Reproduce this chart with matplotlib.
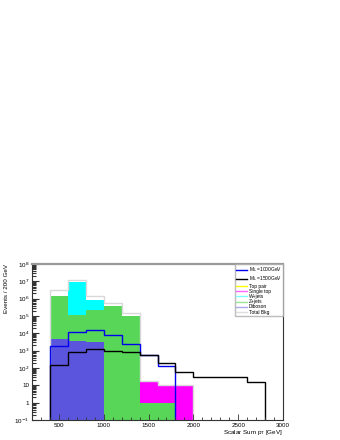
import numpy as np
import matplotlib
matplotlib.use("Agg")
import matplotlib.pyplot as plt
from matplotlib.ticker import FixedLocator, FuncFormatter, LogLocator, MultipleLocator, NullFormatter
from matplotlib.lines import Line2D

plt.rcParams['font.family'] = ['Liberation Sans', 'DejaVu Sans']

# ---- data (bins of 200 GeV) ----
edges = [400, 600, 800, 1000, 1200, 1400, 1600, 1800, 2000, 2200, 2400, 2600, 2800]
diboson   = [4.5e3, 3.8e3, 3.2e3, 0, 0, 0, 0, 0, 0, 0, 0, 0]
zjets     = [1.4e6, 1.1e5, 2.2e5, 3.8e5, 1.05e5, 1.0, 1.0, 0, 0, 0, 0, 0]
wjets     = [0, 9.5e6, 6.1e5, 0, 0, 0, 0, 0, 0, 0, 0, 0]
singletop = [0, 0, 0, 0, 0, 17, 9.5, 10, 0, 0, 0, 0]
toppair   = [0, 0, 0, 0, 0, 0, 0, 0, 0, 0, 0, 0]
totalbkg  = [3.2e6, 1.2e7, 1.4e6, 5.4e5, 1.4e5, 19, 11, 10.5, 0, 0, 0, 0]
sig1000   = [1.9e3, 1.15e4, 1.55e4, 7.6e3, 2.3e3, 560, 130, 0, 0, 0, 0, 0]
sig1500   = [150, 880, 1.2e3, 1.0e3, 800, 540, 200, 61, 30, 30, 30, 15]

xticks = [500, 1000, 1500, 2000, 2500, 3000]
yticks = [1e-1, 1, 10, 1e2, 1e3, 1e4, 1e5, 1e6, 1e7, 1e8]
ylabel = "Events / 200 GeV"
xlabel = r"Scalar Sum p$_{\mathrm{T}}$ [GeV]"

labels = [r"M$_{\mathrm{L}}$ =1000GeV", r"M$_{\mathrm{L}}$ =1500GeV", "Top pair",
          "Single top", "W+jets", "Z+jets", "Diboson", "Total Bkg"]

YMIN, YMAX = 1e-1, 1e8

fig = plt.figure(figsize=(3.4, 4.4), dpi=100)
ax = fig.add_axes([32/340, 20/440, (283-32)/340, (420-264)/440])
ax.set_yscale('log')
ax.set_xlim(200, 3000)
ax.set_ylim(YMIN, YMAX)

e = np.array(edges, float)
floor = 1e-3
stack = [(diboson, '#5b55dd'),
         (zjets, '#57d657'),
         (wjets, '#00ffff'),
         (singletop, '#ff00ff'),
         (toppair, '#ffff00')]
base = np.zeros(len(edges) - 1)
for vals, fc in stack:
    v = np.array(vals, float)
    top = base + v
    mask = v > 0
    lo = np.where(base > 0, base, floor)
    hi = np.where(mask, top, lo)
    ax.stairs(hi, e, baseline=lo, fill=True, color=fc, lw=0)
    base = top

ax.stairs(np.clip(np.array(totalbkg, float), floor, None), e, baseline=floor,
          color='#d8d8d8', lw=1.0)
ax.stairs(np.clip(np.array(sig1000, float), floor, None), e, baseline=floor,
          color='#0000ee', lw=1.0)
ax.stairs(np.clip(np.array(sig1500, float), floor, None), e, baseline=floor,
          color='black', lw=1.0)

# ticks
ax.xaxis.set_major_locator(FixedLocator(xticks))
ax.xaxis.set_minor_locator(MultipleLocator(100))
ax.yaxis.set_major_locator(FixedLocator(yticks))
minor = [m * t for t in yticks[:-1] for m in range(2, 10)]
ax.yaxis.set_minor_locator(FixedLocator(minor))
ax.yaxis.set_minor_formatter(NullFormatter())

def yfmt(v, pos):
    p = int(round(np.log10(v)))
    if p == 0:
        return "1"
    if p == 1:
        return "10"
    return r"10$^{%d}$" % p
ax.yaxis.set_major_formatter(FuncFormatter(yfmt))
ax.xaxis.set_major_formatter(FuncFormatter(lambda v, p: "%d" % v))

ax.tick_params(axis='both', which='both', direction='in', top=False, right=False,
               labelsize=4.5, colors='#333333', labelcolor='black', pad=2)
ax.tick_params(axis='y', which='major', length=5, width=0.8)
ax.tick_params(axis='y', which='minor', length=3, width=0.8)
ax.tick_params(axis='x', which='major', length=4, width=0.6)
ax.tick_params(axis='x', which='minor', length=2, width=0.6)

for s in ['left', 'right', 'bottom']:
    ax.spines[s].set_color('#333333')
    ax.spines[s].set_linewidth(0.8)
ax.spines['top'].set_color('#999999')
ax.spines['top'].set_linewidth(1.6)

ax.set_ylabel(ylabel, fontsize=4.5, loc='top', labelpad=4)
ax.set_xlabel(xlabel, fontsize=4.5, loc='right', labelpad=0)

# legend
handles = [Line2D([], [], color='#0000ee', lw=1.0),
           Line2D([], [], color='black', lw=1.0),
           Line2D([], [], color='#ffff00', lw=1.0),
           Line2D([], [], color='#ff66ff', lw=1.0),
           Line2D([], [], color='#7fffff', lw=1.0),
           Line2D([], [], color='#99e699', lw=1.0),
           Line2D([], [], color='#aaaaee', lw=1.0),
           Line2D([], [], color='#dddddd', lw=1.0)]
leg = ax.legend(handles, labels, loc='upper right', bbox_to_anchor=(1.0, 1.0),
                fontsize=3.5, frameon=True, fancybox=False, handlelength=2.2,
                handletextpad=0.4, labelspacing=0.05, borderpad=0.25,
                borderaxespad=0.0)
fr = leg.get_frame()
fr.set_edgecolor('#aaaaaa')
fr.set_linewidth(1.0)

fig.savefig('out.png', dpi=100)
